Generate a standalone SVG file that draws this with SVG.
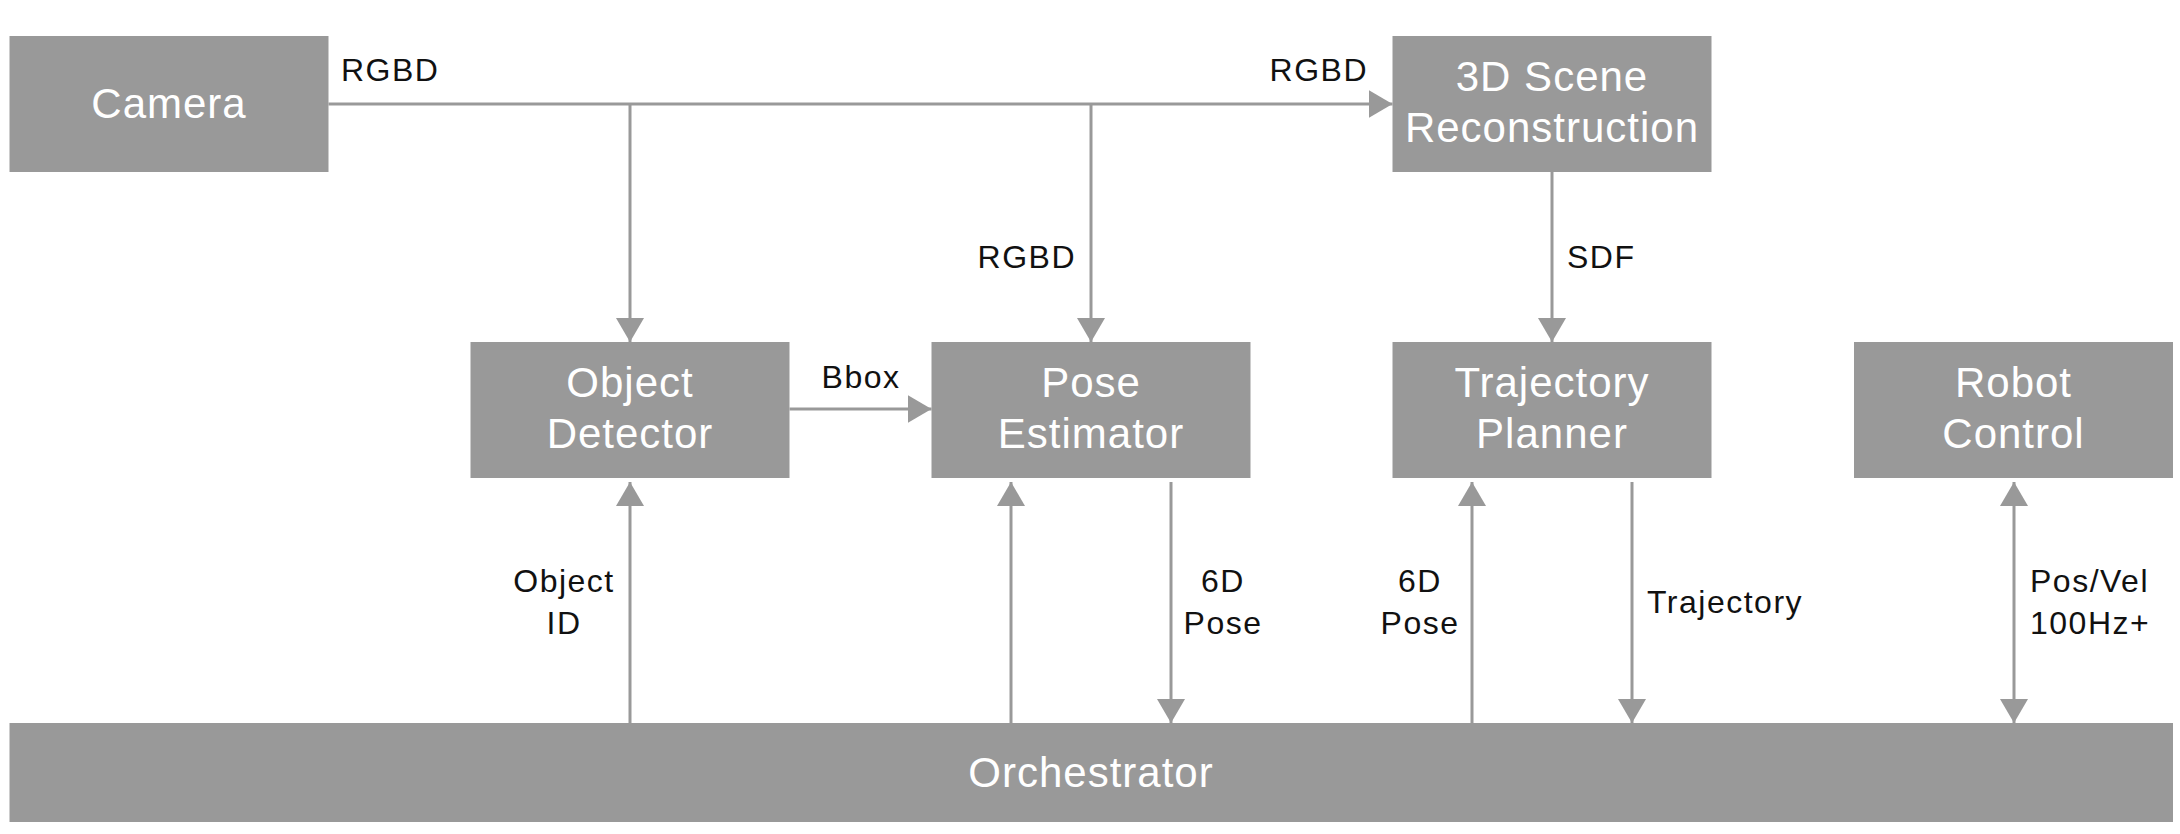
<svg xmlns="http://www.w3.org/2000/svg" width="2180" height="834" viewBox="0 0 2180 834">
<style>
.box{fill:#999999;}
.bt{font-family:"Liberation Sans",Arial,sans-serif;font-size:42px;fill:#ffffff;text-anchor:middle;letter-spacing:1px;}
.lbl{font-family:"Liberation Sans",Arial,sans-serif;font-size:32px;fill:#111111;letter-spacing:1.5px;}
.ln{stroke:#999999;stroke-width:3;fill:none;}
</style>
<defs>
<marker id="ah" viewBox="0 0 24 28" markerWidth="24" markerHeight="28" refX="24" refY="14" orient="auto-start-reverse" markerUnits="userSpaceOnUse">
<path d="M0,0 L24,14 L0,28 Z" fill="#999999"/>
</marker>
</defs>
<rect width="2180" height="834" fill="#ffffff"/>
<g id="camera"><rect class="box" x="9.5" y="36" width="319" height="136"/><text class="bt" x="169" y="118">Camera</text></g>
<g id="scene3d"><rect class="box" x="1392.5" y="36" width="319" height="136"/><text class="bt" x="1552" y="91">3D Scene</text><text class="bt" x="1552" y="142">Reconstruction</text></g>
<g id="objectDetector"><rect class="box" x="470.5" y="342" width="319" height="136"/><text class="bt" x="630" y="397">Object</text><text class="bt" x="630" y="448">Detector</text></g>
<g id="poseEstimator"><rect class="box" x="931.5" y="342" width="319" height="136"/><text class="bt" x="1091" y="397">Pose</text><text class="bt" x="1091" y="448">Estimator</text></g>
<g id="trajectoryPlanner"><rect class="box" x="1392.5" y="342" width="319" height="136"/><text class="bt" x="1552" y="397">Trajectory</text><text class="bt" x="1552" y="448">Planner</text></g>
<g id="robotControl"><rect class="box" x="1854" y="342" width="319" height="136"/><text class="bt" x="2013.5" y="397">Robot</text><text class="bt" x="2013.5" y="448">Control</text></g>
<g id="orchestrator"><rect class="box" x="9.5" y="723" width="2163.5" height="99"/><text class="bt" x="1091" y="787">Orchestrator</text></g>
<g id="connectors">
<line class="ln" x1="328.5" y1="104" x2="1392.5" y2="104" marker-end="url(#ah)"/>
<line class="ln" x1="630" y1="104" x2="630" y2="342" marker-end="url(#ah)"/>
<line class="ln" x1="1091" y1="104" x2="1091" y2="342" marker-end="url(#ah)"/>
<line class="ln" x1="1552" y1="172" x2="1552" y2="342" marker-end="url(#ah)"/>
<line class="ln" x1="789.5" y1="409" x2="931.5" y2="409" marker-end="url(#ah)"/>
<line class="ln" x1="630" y1="723" x2="630" y2="482" marker-end="url(#ah)"/>
<line class="ln" x1="1011" y1="723" x2="1011" y2="482" marker-end="url(#ah)"/>
<line class="ln" x1="1171" y1="482" x2="1171" y2="723" marker-end="url(#ah)"/>
<line class="ln" x1="1472" y1="723" x2="1472" y2="482" marker-end="url(#ah)"/>
<line class="ln" x1="1632" y1="482" x2="1632" y2="723" marker-end="url(#ah)"/>
<line class="ln" x1="2014" y1="482" x2="2014" y2="723" marker-start="url(#ah)" marker-end="url(#ah)"/>
<text class="lbl" x="341" y="81">RGBD</text>
<text class="lbl" x="1368" y="81" text-anchor="end">RGBD</text>
<text class="lbl" x="1076" y="268" text-anchor="end">RGBD</text>
<text class="lbl" x="1567" y="268">SDF</text>
<text class="lbl" x="861" y="388" text-anchor="middle">Bbox</text>
<text class="lbl" x="564" y="592" text-anchor="middle">Object</text>
<text class="lbl" x="564" y="634" text-anchor="middle">ID</text>
<text class="lbl" x="1223" y="592" text-anchor="middle">6D</text>
<text class="lbl" x="1223" y="634" text-anchor="middle">Pose</text>
<text class="lbl" x="1420" y="592" text-anchor="middle">6D</text>
<text class="lbl" x="1420" y="634" text-anchor="middle">Pose</text>
<text class="lbl" x="1647" y="613">Trajectory</text>
<text class="lbl" x="2030" y="592">Pos/Vel</text>
<text class="lbl" x="2030" y="634">100Hz+</text>
</g>
</svg>
